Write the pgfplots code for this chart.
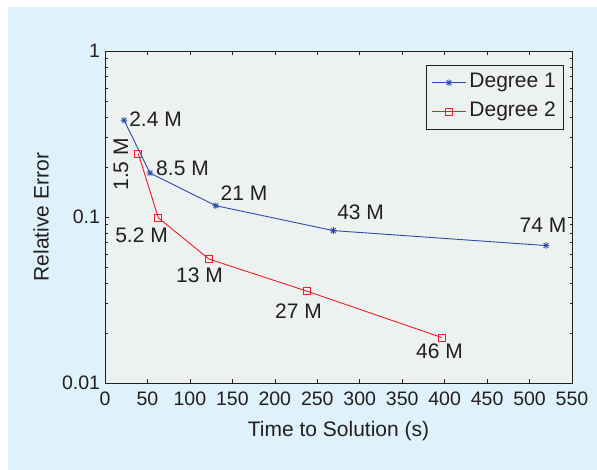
\documentclass[border=0pt]{standalone}
\usepackage{fontspec}
\setmainfont{Liberation Sans}
\usepackage{pgfplots}
\pgfplotsset{compat=1.18}

\definecolor{panel}{RGB}{223,241,250}
\definecolor{face}{RGB}{237,242,241}
\definecolor{degA}{RGB}{45,75,170}
\definecolor{degB}{RGB}{235,30,40}
\definecolor{ink}{RGB}{35,31,32}
\newcommand{\lbl}{\fontsize{21}{24}\selectfont}
\newcommand{\tkl}{\fontsize{19.5}{22}\selectfont}

% eight-armed star: a plus and a cross laid over each other
\pgfdeclareplotmark{star8}{%
  \pgfpathmoveto{\pgfqpoint{-\pgfplotmarksize}{0pt}}%
  \pgfpathlineto{\pgfqpoint{\pgfplotmarksize}{0pt}}%
  \pgfpathmoveto{\pgfqpoint{0pt}{-\pgfplotmarksize}}%
  \pgfpathlineto{\pgfqpoint{0pt}{\pgfplotmarksize}}%
  \pgfpathmoveto{\pgfqpoint{-0.707\pgfplotmarksize}{-0.707\pgfplotmarksize}}%
  \pgfpathlineto{\pgfqpoint{0.707\pgfplotmarksize}{0.707\pgfplotmarksize}}%
  \pgfpathmoveto{\pgfqpoint{-0.707\pgfplotmarksize}{0.707\pgfplotmarksize}}%
  \pgfpathlineto{\pgfqpoint{0.707\pgfplotmarksize}{-0.707\pgfplotmarksize}}%
  \pgfusepathqstroke}

\begin{document}
\begin{tikzpicture}[x=1pt,y=1pt]
\useasboundingbox (0,0) rectangle (597,470);
\fill[white] (0,0) rectangle (597,470);
\fill[panel] (8,0) rectangle (597,463);
\begin{axis}[
  at={(105pt,87pt)}, anchor=south west,
  scale only axis, width=467pt, height=332pt,
  ymode=log,
  xmin=0, xmax=550, ymin=0.01, ymax=1,
  xtick={0,50,...,550},
  ytick={0.01,0.1,1}, yticklabels={0.01,0.1,1},
  axis background/.style={fill=face},
  axis line style={ink, line width=0.8pt},
  tick style={ink, line width=0.6pt},
  major tick length=4pt, minor tick length=2.5pt,
  tick align=inside,
  /pgf/number format/assume math mode=true,
  tick label style={font=\tkl, text=ink},
  xticklabel style={yshift=-5pt},
  yticklabel style={xshift=-1.5pt},
  label style={font=\lbl, text=ink},
  xlabel={Time to Solution (s)},
  ylabel={Relative Error},
  x label style={at={(axis description cs:0.5,-0.146)}, anchor=center},
  y label style={at={(axis description cs:-0.137,0.5)}, anchor=center},
  legend cell align=left,
  legend style={at={(0.981,0.958)}, anchor=north east,
    draw=ink, line width=0.6pt, fill=face, font=\lbl, text=ink,
    inner xsep=5pt, inner ysep=5.75pt, row sep=5.5pt, column sep=1pt,
    nodes={inner sep=2pt, text height=15pt, text depth=4.5pt}},
  legend image code/.code={\draw[mark repeat=2,mark phase=2]
    plot coordinates {(0pt,0pt) (17pt,0pt) (34pt,0pt)};},
  every node/.append style={font=\lbl, text=ink},
]
% Degree 1
\addplot[degA, line width=0.9pt, mark=star8, mark size=3.4pt,
  mark options={solid, line width=0.85pt}]
  coordinates {(22.4,0.383) (53,0.184) (130.4,0.117) (269,0.0828) (519.4,0.0673)};
\addlegendentry{Degree 1}
% Degree 2
\addplot[degB, line width=0.9pt, mark=square, mark size=3.5pt,
  mark options={solid, line width=0.8pt}]
  coordinates {(39.2,0.241) (62.8,0.0989) (122.5,0.0558) (237.5,0.0358) (396.5,0.0188)};
\addlegendentry{Degree 2}

% problem sizes
\begin{scope}[every node/.style={font=\lbl, text=ink, inner sep=0pt, anchor=center}]
\node[xshift=31.5pt, yshift=1.5pt]  at (axis cs:22.4,0.383)  {2.4 M};
\node[xshift=32.5pt, yshift=4.7pt]  at (axis cs:53,0.184)    {8.5 M};
\node[xshift=28.3pt, yshift=12.3pt] at (axis cs:130.4,0.117) {21 M};
\node[xshift=27.2pt, yshift=18pt]   at (axis cs:269,0.0828)  {43 M};
\node[xshift=-3pt,   yshift=20pt]   at (axis cs:519.4,0.0673){74 M};
\node[xshift=-17.3pt,yshift=-10.7pt,rotate=90] at (axis cs:39.2,0.241) {1.5 M};
\node[xshift=-16.8pt,yshift=-17.7pt] at (axis cs:62.8,0.0989) {5.2 M};
\node[xshift=-9.5pt, yshift=-16.7pt] at (axis cs:122.5,0.0558) {13 M};
\node[xshift=-8.2pt, yshift=-20.4pt] at (axis cs:237.5,0.0358) {27 M};
\node[xshift=-2.2pt, yshift=-14pt]   at (axis cs:396.5,0.0188) {46 M};
\end{scope}
\end{axis}
\end{tikzpicture}
\end{document}
